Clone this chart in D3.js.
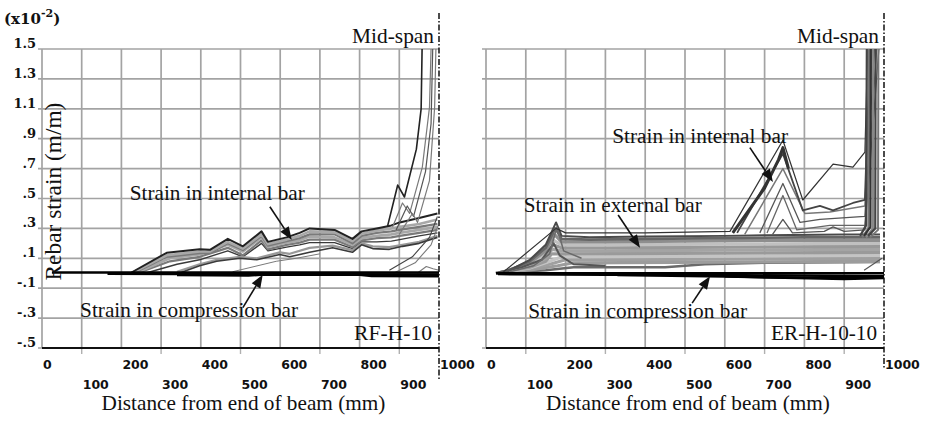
<!DOCTYPE html>
<html>
<head>
<meta charset="utf-8">
<script src="https://cdn.jsdelivr.net/npm/d3@7"></script>
<style>
  html, body { margin: 0; padding: 0; background: #fff; }
  svg { display: block; }
  text { font-family: "Liberation Serif", "DejaVu Serif", serif; fill: #111; }
</style>
</head>
<body>
<svg id="chart" width="927" height="428"></svg>
<script>
// ---- axis ticks ----
const xTicks = [0, 100, 200, 300, 400, 500, 600, 700, 800, 900, 1000];
const yTicks = [-0.5, -0.3, -0.1, 0.1, 0.3, 0.5, 0.7, 0.9, 1.1, 1.3, 1.5];
const yTickLabels = ["-.5", "-.3", "-.1", ".1", ".3", ".5", ".7", ".9", "1.1", "1.3", "1.5"];

// ---- RF-H-10: internal (tension) bar, [distance mm, strain x1e-2] ----
const rfInternal1 = [[222,0],[314,0.137],[397,0.16],[423,0.157],[468,0.23],[506,0.18],[553,0.28],[569,0.21],[616,0.24],[649,0.27],[674,0.30],[737,0.29],[782,0.23],[805,0.28],[843,0.30],[880,0.32],[901,0.34],[950,0.37],[996,0.40]];
const rfInternal2 = [[225,0],[314,0.12],[397,0.145],[423,0.145],[468,0.21],[506,0.165],[553,0.26],[569,0.195],[616,0.225],[649,0.25],[674,0.28],[737,0.275],[782,0.215],[805,0.265],[843,0.285],[880,0.30],[901,0.31],[950,0.33],[996,0.36]];
const rfInternal3 = [[230,0],[314,0.11],[397,0.135],[423,0.135],[468,0.20],[506,0.155],[553,0.25],[569,0.185],[616,0.215],[649,0.235],[674,0.26],[737,0.26],[782,0.20],[805,0.25],[843,0.27],[880,0.28],[901,0.29],[950,0.31],[996,0.33]];
const rfInternal4 = [[235,0],[322,0.10],[397,0.125],[468,0.19],[506,0.145],[553,0.24],[569,0.175],[616,0.205],[649,0.22],[674,0.245],[737,0.24],[782,0.19],[805,0.235],[843,0.25],[880,0.26],[901,0.27],[950,0.29],[996,0.31]];
const rfInternal5 = [[240,0],[322,0.08],[397,0.11],[468,0.17],[506,0.12],[553,0.22],[569,0.16],[616,0.19],[649,0.205],[674,0.225],[737,0.225],[782,0.175],[805,0.22],[843,0.235],[880,0.24],[901,0.25],[950,0.27],[996,0.29]];
const rfInternal6 = [[260,0],[340,0.06],[397,0.09],[468,0.15],[506,0.11],[553,0.20],[569,0.15],[616,0.175],[649,0.19],[674,0.205],[737,0.205],[782,0.165],[805,0.21],[843,0.21],[880,0.215],[901,0.225],[950,0.25],[996,0.27]];
const rfInternal7 = [[340,0.01],[397,0.06],[440,0.09],[498,0.11],[541,0.10],[599,0.14],[624,0.13],[674,0.17],[732,0.185],[782,0.155],[805,0.20],[833,0.18],[875,0.175],[908,0.19],[950,0.21],[996,0.25]];
const rfInternal8 = [[345,0],[397,0.05],[440,0.08],[498,0.10],[541,0.09],[599,0.125],[624,0.11],[674,0.14],[732,0.17],[782,0.14],[805,0.19],[833,0.165],[875,0.16],[908,0.18],[950,0.20],[996,0.24]];
const rfInternal9 = [[480,0.01],[590,0.08],[640,0.10],[700,0.13]];
// steep rise towards mid-span
const rfSpike1 = [[870,0.31],[896,0.59],[913,0.51],[943,0.83],[955,1.10],[958,1.60]];
const rfSpike2 = [[883,0.31],[908,0.47],[926,0.40],[958,0.71],[976,1.11],[981,1.60]];
const rfSpike3 = [[892,0.29],[920,0.45],[936,0.38],[966,0.68],[980,1.0],[985,1.60]];
const rfSpike4 = [[900,0.26],[933,0.40],[946,0.34],[976,0.62],[989,1.11],[993,1.60]];
const rfRise1 = [[875,0.02],[933,0.11],[976,0.24],[996,0.38]];
const rfRise2 = [[885,0.0],[940,0.07],[980,0.19],[998,0.32]];
const rfRise3 = [[945,0.0],[968,0.045],[985,0.03],[1000,0.02]];
// compression bar
const rfComp1 = [[25,0.005],[1000,0.005]];
const rfComp2 = [[165,-0.003],[340,-0.005],[520,-0.005],[1000,-0.008]];
const rfComp3 = [[340,-0.012],[520,-0.015],[560,-0.008],[800,-0.01],[830,-0.018],[1000,-0.02]];

// ---- ER-H-10-10: external bar ----
const erExt1 = [[45,0],[110,0.09],[150,0.19],[176,0.34],[190,0.25],[260,0.24],[400,0.245],[600,0.25],[700,0.255],[900,0.26],[990,0.26]];
const erExt2 = [[40,0],[110,0.08],[150,0.17],[174,0.30],[190,0.23],[260,0.225],[400,0.23],[600,0.235],[800,0.24],[990,0.24]];
const erExt3 = [[35,0],[110,0.07],[150,0.15],[172,0.26],[190,0.21],[300,0.21],[500,0.215],[700,0.22],[990,0.22]];
const erExt4 = [[30,0],[110,0.06],[150,0.13],[170,0.22],[190,0.19],[300,0.19],[600,0.195],[990,0.20]];
const erExt5 = [[28,0],[110,0.05],[150,0.11],[168,0.19],[190,0.17],[300,0.17],[600,0.175],[990,0.18]];
const erExt6 = [[26,0],[110,0.045],[150,0.10],[166,0.16],[190,0.15],[300,0.15],[600,0.155],[990,0.16]];
const erExt7 = [[25,0],[110,0.04],[150,0.08],[165,0.13],[190,0.13],[600,0.135],[990,0.14]];
const erExt8 = [[25,0],[110,0.035],[150,0.07],[190,0.11],[600,0.115],[990,0.12]];
const erExt9 = [[25,0],[110,0.03],[160,0.06],[200,0.09],[600,0.095],[990,0.10]];
const erExt10 = [[25,0],[120,0.025],[180,0.05],[220,0.07],[600,0.075],[990,0.08]];
const erExt11 = [[25,0],[150,0.02],[220,0.04],[450,0.04],[550,0.06],[700,0.07],[990,0.075]];
const erExt12 = [[30,0.005],[90,0.04],[140,0.09],[170,0.20],[185,0.12],[220,0.06],[300,0.05]];
const erExt13 = [[60,0.01],[120,0.05],[160,0.13],[178,0.31],[195,0.15],[240,0.10]];
// internal bar
const erInt1 = [[40,0],[176,0.30],[200,0.27],[400,0.27],[613,0.28],[746,0.89],[796,0.49],[872,0.73],[922,0.71],[952,0.81],[960,1.60]];
const erInt2 = [[631,0.27],[746,0.80],[796,0.42],[839,0.45],[872,0.42],[922,0.47],[952,0.49],[966,1.60]];
const erInt3 = [[650,0.26],[746,0.70],[801,0.40],[864,0.41],[952,0.45],[972,1.60]];
const erInt4 = [[688,0.27],[746,0.60],[789,0.34],[839,0.36],[952,0.38],[978,1.60]];
const erInt5 = [[706,0.27],[746,0.52],[781,0.29],[864,0.32],[952,0.32],[984,1.60]];
const erInt6 = [[720,0.26],[746,0.36],[770,0.27],[850,0.28],[872,0.31],[900,0.28],[952,0.29],[990,1.60]];
const erInt7 = [[620,0.27],[700,0.57],[735,0.76],[746,0.84],[760,0.70]];
// near mid-span the readings shoot off the scale
const erSpike1 = [[940,0.25],[955,0.32],[957,1.60]];
const erSpike2 = [[945,0.24],[961,0.30],[962,1.60]];
const erSpike3 = [[950,0.25],[966,0.31],[967,1.60]];
const erSpike4 = [[955,0.24],[972,0.30],[973,1.60]];
const erSpike5 = [[960,0.25],[978,0.30],[979,1.60]];
const erSpike6 = [[965,0.24],[985,0.29],[986,1.60]];
const erRise1 = [[950,0.02],[995,0.10]];
// compression bar
const erComp1 = [[25,0.0],[1000,0.0]];
const erComp2 = [[30,-0.006],[300,-0.01],[600,-0.012],[1000,-0.02]];
const erComp3 = [[330,-0.012],[600,-0.022],[800,-0.03],[1000,-0.03]];
const erComp4 = [[600,-0.02],[750,-0.03],[900,-0.038],[1000,-0.032]];

// ---- annotations (data coordinates) ----
const rfNotes = [
  { text: "Strain in internal bar", x: 221, y: 0.49, width: 175 },
  { text: "Strain in compression bar", x: 96, y: -0.29, width: 218 }
];
const rfArrows = [
  { from: [574, 0.445], to: [629, 0.224] },
  { from: [506, -0.23], to: [556, -0.01] }
];
const erNotes = [
  { text: "Strain in internal bar", x: 317, y: 0.87, width: 176 },
  { text: "Strain in external bar", x: 95, y: 0.41, width: 178 },
  { text: "Strain in compression bar", x: 106, y: -0.30, width: 219 }
];
const erArrows = [
  { from: [663, 0.84], to: [721, 0.61] },
  { from: [332, 0.39], to: [387, 0.17] },
  { from: [518, -0.20], to: [563, -0.02] }
];

const svg = d3.select("#chart");
const defs = svg.append("defs");

// scale a text's font size so that it spans the wanted width
function fit(sel, width) {
  const w = sel.node().getComputedTextLength();
  const fs = parseFloat(sel.style("font-size"));
  if (w > 0) sel.style("font-size", (fs * width / w).toFixed(2) + "px");
  return sel;
}

const y = d3.scaleLinear().domain([-0.5, 1.5]).range([348, 49]);

function drawPanel(cfg) {
  const x = d3.scaleLinear().domain([0, 1000]).range([cfg.left, cfg.right]);
  const g = svg.append("g");
  const clipId = "clip-" + cfg.id;
  defs.append("clipPath").attr("id", clipId)
    .append("rect").attr("x", cfg.left).attr("y", y(1.5))
    .attr("width", cfg.right - cfg.left + 1).attr("height", y(-0.5) - y(1.5));

  // grid
  g.selectAll(".hg").data(yTicks).join("line")
    .attr("x1", cfg.left - 4).attr("x2", cfg.right)
    .attr("y1", d => y(d)).attr("y2", d => y(d))
    .attr("stroke", "#a3a3a3").attr("stroke-width", 1.7);
  g.selectAll(".vg").data(xTicks.slice(0, -1)).join("line")
    .attr("x1", d => x(d)).attr("x2", d => x(d))
    .attr("y1", y(1.5)).attr("y2", y(-0.5))
    .attr("stroke", "#a3a3a3").attr("stroke-width", 1.7);
  // small ticks under the axis
  g.selectAll(".xt").data(xTicks.filter((d, i) => i % 2 === 1)).join("line")
    .attr("x1", d => x(d)).attr("x2", d => x(d))
    .attr("y1", y(-0.5)).attr("y2", y(-0.5) + 6)
    .attr("stroke", "#b0b0b0").attr("stroke-width", 1.4);

  const line = d3.line().x(d => x(d[0])).y(d => y(d[1]));
  const plot = g.append("g").attr("clip-path", `url(#${clipId})`);
  cfg.series.forEach(s => {
    plot.append("path").datum(s.data)
      .attr("d", line).attr("fill", "none")
      .attr("stroke", s.color).attr("stroke-width", s.width)
      .attr("stroke-linejoin", "round");
  });

  // x axis line
  g.append("line").attr("x1", cfg.left).attr("x2", cfg.right)
    .attr("y1", y(-0.5)).attr("y2", y(-0.5))
    .attr("stroke", "#111").attr("stroke-width", 2);

  // mid-span line
  g.append("line").attr("x1", x(1000)).attr("x2", x(1000))
    .attr("y1", 13).attr("y2", cfg.dashEnd)
    .attr("stroke", "#111").attr("stroke-width", 1.5)
    .attr("stroke-dasharray", "6,2,1.5,2");
  fit(g.append("text").attr("x", x(1000) - 5).attr("y", 43)
    .attr("text-anchor", "end").style("font-size", "21px").text("Mid-span"), 82);

  // x tick labels, two staggered rows
  g.selectAll(".xl").data(xTicks).join("text")
    .attr("x", d => x(d) + 1)
    .attr("y", (d, i) => i % 2 === 0 ? 369 : 389)
    .style("font-family", "'DejaVu Sans', Verdana, sans-serif")
    .style("font-weight", "bold").style("font-size", "12.5px")
    .text(d => d);

  fit(g.append("text").attr("x", (cfg.left + cfg.right) / 2 + 3).attr("y", 410)
    .attr("text-anchor", "middle").style("font-size", "21px")
    .text("Distance from end of beam (mm)"), 284);

  fit(g.append("text").attr("x", x(1000) - 7).attr("y", 340)
    .attr("text-anchor", "end").style("font-size", "21px").text(cfg.name), cfg.nameWidth);

  cfg.notes.forEach(n => {
    fit(g.append("text").attr("x", x(n.x)).attr("y", y(n.y))
      .style("font-size", "21px").text(n.text), n.width);
  });
  cfg.arrows.forEach(a => {
    const x1 = x(a.from[0]), y1 = y(a.from[1]);
    const x2 = x(a.to[0]), y2 = y(a.to[1]);
    const ang = Math.atan2(y2 - y1, x2 - x1);
    const len = 13, half = 5;
    const bx = x2 - len * Math.cos(ang), by = y2 - len * Math.sin(ang);
    g.append("line").attr("x1", x1).attr("y1", y1).attr("x2", bx).attr("y2", by)
      .attr("stroke", "#111").attr("stroke-width", 1.6);
    const pts = [
      [x2, y2],
      [bx + half * Math.sin(ang), by - half * Math.cos(ang)],
      [bx - half * Math.sin(ang), by + half * Math.cos(ang)]
    ];
    g.append("polygon").attr("points", pts.map(p => p.join(",")).join(" "))
      .attr("fill", "#111");
  });
  return x;
}

const dark = "#3a3a3a", mid = "#7a7a7a", light = "#a8a8a8";

drawPanel({
  id: "rf", name: "RF-H-10", nameWidth: 78, left: 42, right: 439, dashEnd: 381,
  notes: rfNotes, arrows: rfArrows,
  series: [
    { data: rfInternal6, color: dark, width: 1.4 },
    { data: rfInternal5, color: mid, width: 2.2 },
    { data: rfInternal4, color: light, width: 2.6 },
    { data: rfInternal3, color: mid, width: 2.2 },
    { data: rfInternal2, color: light, width: 2.6 },
    { data: rfInternal1, color: "#222", width: 2 },
    { data: rfInternal7, color: "#999", width: 2.2 },
    { data: rfInternal8, color: dark, width: 1.6 },
    { data: rfInternal9, color: mid, width: 1 },
    { data: rfSpike1, color: "#222", width: 1.6 },
    { data: rfSpike2, color: mid, width: 1.2 },
    { data: rfSpike3, color: "#555", width: 1.2 },
    { data: rfSpike4, color: mid, width: 1.2 },
    { data: rfRise1, color: "#444", width: 1.1 },
    { data: rfRise2, color: mid, width: 1.1 },
    { data: rfRise3, color: mid, width: 1.1 },
    { data: rfComp1, color: "#000", width: 2.4 },
    { data: rfComp2, color: "#000", width: 2.4 },
    { data: rfComp3, color: "#000", width: 2.6 }
  ]
});

drawPanel({
  id: "er", name: "ER-H-10-10", nameWidth: 106, left: 486, right: 884, dashEnd: 368,
  notes: erNotes, arrows: erArrows,
  series: [
    { data: erExt11, color: "#6a6a6a", width: 2.6 },
    { data: erExt10, color: "#9c9c9c", width: 3.2 },
    { data: erExt9, color: "#a0a0a0", width: 3.2 },
    { data: erExt8, color: "#c4c4c4", width: 3.2 },
    { data: erExt7, color: "#9a9a9a", width: 3.2 },
    { data: erExt6, color: "#a4a4a4", width: 3.2 },
    { data: erExt5, color: "#999", width: 3.2 },
    { data: erExt4, color: "#c0c0c0", width: 3.2 },
    { data: erExt3, color: "#8e8e8e", width: 3.2 },
    { data: erExt2, color: "#666", width: 2.6 },
    { data: erExt1, color: "#4a4a4a", width: 2 },
    { data: erExt12, color: "#555", width: 2 },
    { data: erExt13, color: "#6a6a6a", width: 1.5 },
    { data: erInt6, color: "#555", width: 1.3 },
    { data: erInt5, color: "#666", width: 1.3 },
    { data: erInt4, color: "#555", width: 1.3 },
    { data: erInt3, color: "#777", width: 1.5 },
    { data: erInt2, color: "#444", width: 1.8 },
    { data: erInt7, color: "#333", width: 3 },
    { data: erInt1, color: "#333", width: 1.2 },
    { data: erSpike1, color: "#444", width: 2.2 },
    { data: erSpike2, color: "#777", width: 2.2 },
    { data: erSpike3, color: "#333", width: 2.2 },
    { data: erSpike4, color: "#888", width: 2.2 },
    { data: erSpike5, color: "#444", width: 2.2 },
    { data: erSpike6, color: "#777", width: 2 },
    { data: erRise1, color: "#555", width: 1.1 },
    { data: erComp1, color: "#000", width: 2.4 },
    { data: erComp2, color: "#000", width: 2.4 },
    { data: erComp3, color: "#000", width: 2.6 },
    { data: erComp4, color: "#000", width: 2.6 }
  ]
});

// y axis labels (left panel only)
const yAxisG = svg.append("g");
yAxisG.selectAll("text").data(yTicks).join("text")
  .attr("x", 36).attr("y", d => y(d) - 1)
  .attr("text-anchor", "end")
  .style("font-family", "'DejaVu Serif', Cambria, serif")
  .style("font-weight", "bold").style("font-size", "13px")
  .text((d, i) => yTickLabels[i]);

const unit = svg.append("text").attr("x", 4).attr("y", 24)
  .style("font-family", "'DejaVu Serif', Cambria, serif")
  .style("font-weight", "bold").style("font-size", "15px");
unit.append("tspan").text("(x10");
unit.append("tspan").attr("dy", -7).style("font-size", "11px").text("-2");
unit.append("tspan").attr("dy", 7).text(")");

fit(svg.append("text")
  .attr("transform", `translate(61, ${(y(1.1) + y(0.1)) / 2 + 8}) rotate(-90)`)
  .attr("text-anchor", "middle").style("font-size", "22px")
  .text("Rebar strain (m/m)"), 178);
</script>
</body>
</html>
